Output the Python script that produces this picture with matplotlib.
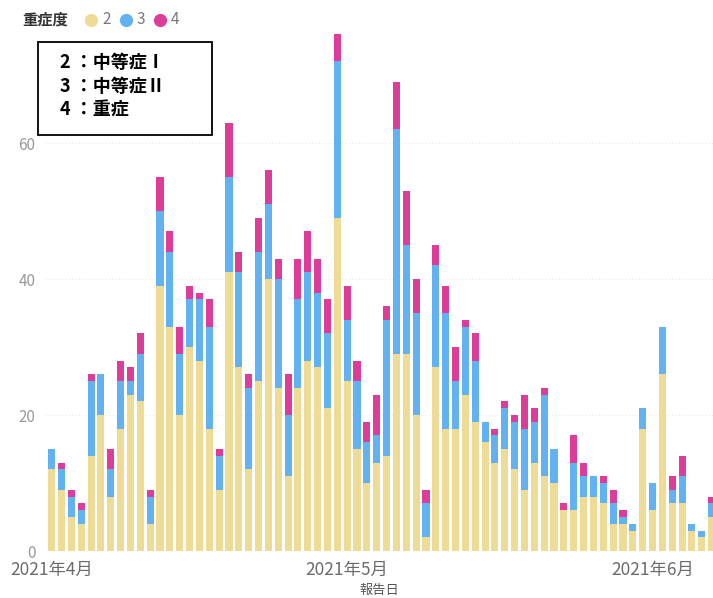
import numpy as np
import pandas as pd
import matplotlib
matplotlib.use("Agg")
import matplotlib.pyplot as plt
import matplotlib.dates as mdates
from matplotlib.lines import Line2D
from matplotlib.patches import Rectangle

plt.rcParams['font.family'] = ['Noto Sans CJK JP', 'DejaVu Sans']

# daily counts by severity, 2021-04-01 .. 2021-06-07
dates = pd.date_range("2021-04-01", periods=68, freq="D")
sev2 = [12, 9, 5, 4, 14, 20, 8, 18, 23, 22, 4, 39, 33, 20, 30, 28, 18, 9, 41, 27,
        12, 25, 40, 24, 11, 24, 28, 27, 21, 49,
        25, 15, 10, 13, 14, 29, 29, 20, 2, 27, 18, 18, 23, 19, 16, 13, 15, 12, 9, 13,
        11, 10, 6, 6, 8, 8, 7, 4, 4, 3, 18,
        6, 26, 7, 7, 3, 2, 5]
sev3 = [3, 3, 3, 2, 11, 6, 4, 7, 2, 7, 4, 11, 11, 9, 7, 9, 15, 5, 14, 14,
        12, 19, 11, 16, 9, 13, 13, 11, 11, 23,
        9, 10, 6, 4, 20, 33, 16, 15, 5, 15, 17, 7, 10, 9, 3, 4, 6, 7, 9, 6,
        12, 5, 0, 7, 3, 3, 3, 3, 1, 1, 3,
        4, 7, 2, 4, 1, 1, 2]
sev4 = [0, 1, 1, 1, 1, 0, 3, 3, 2, 3, 1, 5, 3, 4, 2, 1, 4, 1, 8, 3,
        2, 5, 5, 3, 6, 6, 6, 5, 5, 4,
        5, 3, 3, 6, 2, 7, 8, 5, 2, 3, 4, 5, 1, 4, 0, 1, 1, 1, 5, 2,
        1, 0, 1, 4, 2, 0, 1, 2, 1, 0, 0,
        0, 0, 2, 3, 0, 0, 1]
month_ticks = ["2021-04-01", "2021-05-01", "2021-06-01"]
month_labels = ["2021年4月", "2021年5月", "2021年6月"]

c2, c3, c4 = "#EEDB96", "#62B2F2", "#DC3D98"

fig = plt.figure(figsize=(7.13, 5.98), dpi=100)
ax = fig.add_axes([45 / 713, 1 - 551 / 598, 668 / 713, 530.4 / 598])

s2 = np.array(sev2)
s3 = np.array(sev3)
s4 = np.array(sev4)
w = 0.72
ax.bar(dates, s2, width=w, color=c2, zorder=2)
ax.bar(dates, s3, width=w, bottom=s2, color=c3, zorder=2)
ax.bar(dates, s4, width=w, bottom=s2 + s3, color=c4, zorder=2)

ax.set_ylim(0, 78)
x0 = mdates.date2num(dates[0])
ax.set_xlim(x0 - 0.68, x0 + 67.14)
ax.set_yticks([0, 20, 40, 60])
ax.set_xticks(pd.to_datetime(month_ticks))
ax.set_xticklabels(month_labels)
ax.tick_params(axis="both", length=0)
ax.tick_params(axis="y", pad=7, labelsize=11, labelcolor="#999999")
ax.tick_params(axis="x", pad=7, labelsize=12.5, labelcolor="#6b6b6b")
ax.grid(axis="y", color="#e8e8e8", linestyle=(0, (1, 2)), linewidth=0.8, zorder=0)
for sp in ax.spines.values():
    sp.set_visible(False)
ax.set_xlabel("報告日", fontsize=9.5, color="#555555", labelpad=4)

# legend row
fig.text(22 / 713, 1 - 20 / 598, "重症度", fontsize=11, fontweight="bold",
         color="#333333", va="center", ha="left")
for lx, lab, col in [(91, "2", c2), (126, "3", c3), (160, "4", c4)]:
    fig.add_artist(Line2D([lx / 713], [1 - 20 / 598], marker="o", markersize=8.5,
                          color=col, linestyle="none", transform=fig.transFigure))
    fig.text((lx + 11) / 713, 1 - 20 / 598, lab, fontsize=11, color="#777777",
             va="center", ha="left")

# annotation box
fig.add_artist(Rectangle((38 / 713, 1 - 135 / 598), 174 / 713, 93 / 598,
                         transform=fig.transFigure, facecolor="white",
                         edgecolor="black", linewidth=1.3, zorder=5))
for i, line in enumerate(["2 ：中等症Ⅰ", "3 ：中等症Ⅱ", "4 ：重症"]):
    fig.text(60 / 713, 1 - (62 + i * 24) / 598, line, fontsize=13,
             fontweight="bold", color="black", va="center", ha="left", zorder=6)

fig.savefig("out.png", dpi=100)
